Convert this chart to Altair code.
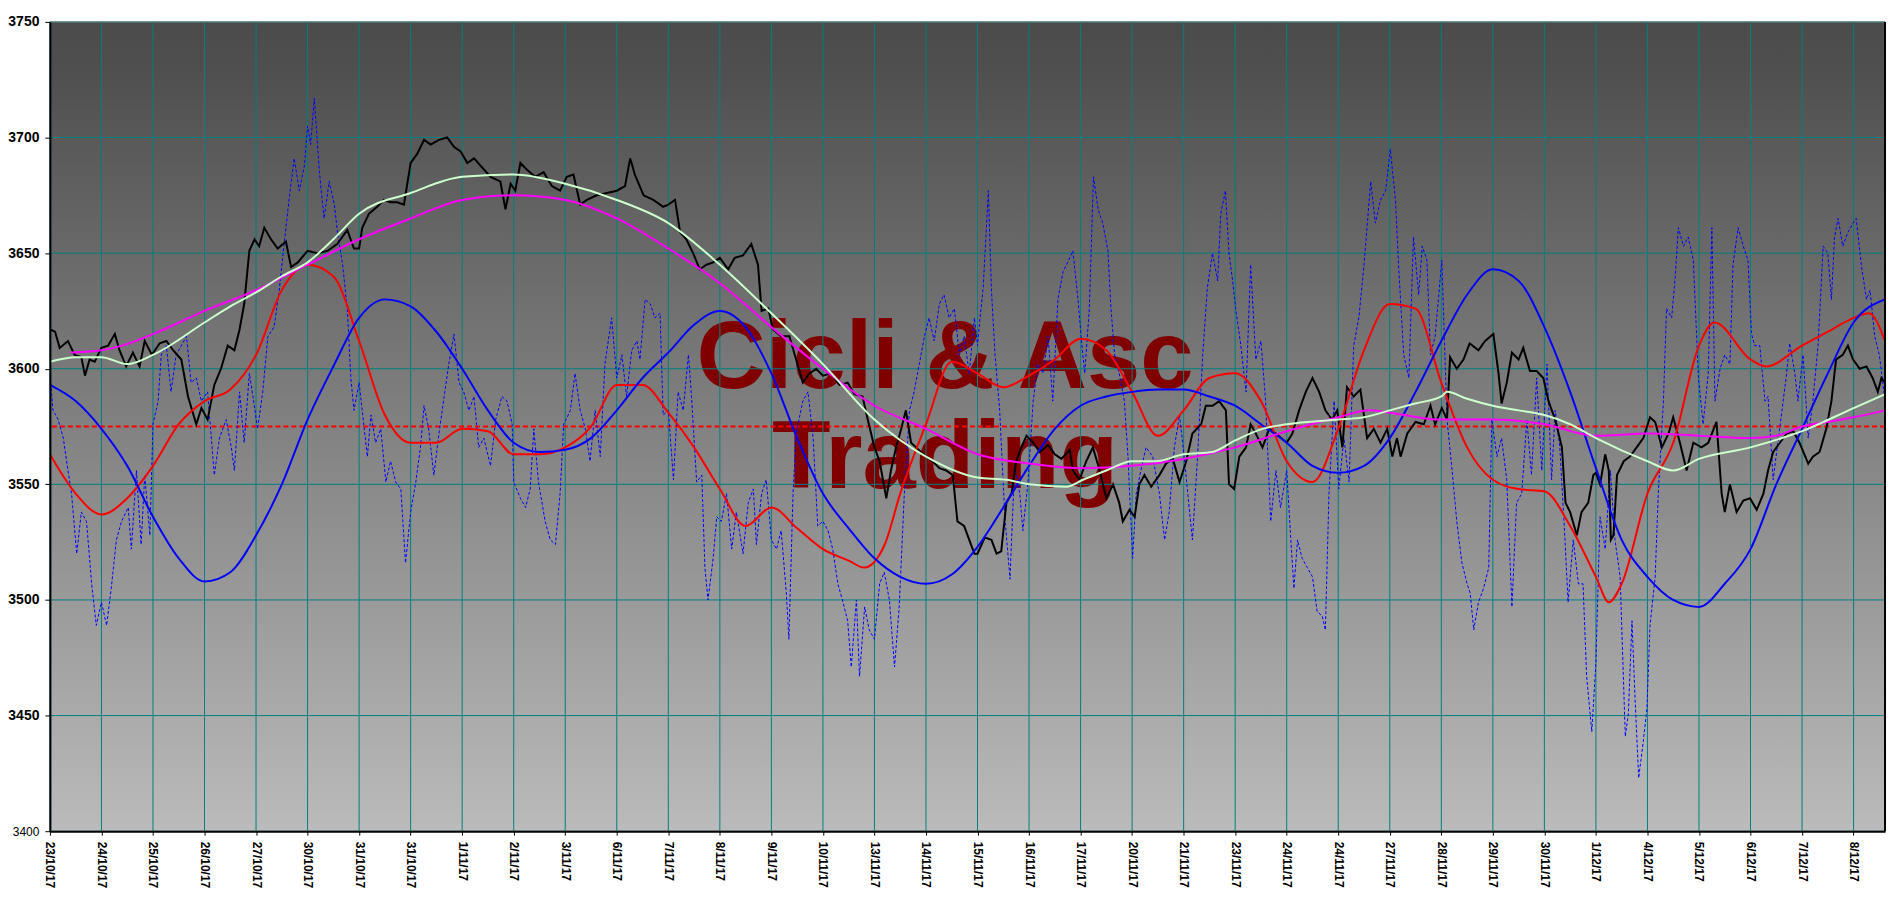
import altair as alt
import pandas as pd

# ---------------- data ----------------
x_labels = ["23/10/17", "24/10/17", "25/10/17", "26/10/17", "27/10/17", "30/10/17",
            "31/10/17", "31/10/17", "1/11/17", "2/11/17", "3/11/17", "6/11/17",
            "7/11/17", "8/11/17", "9/11/17", "10/11/17", "13/11/17", "14/11/17",
            "15/11/17", "16/11/17", "17/11/17", "20/11/17", "21/11/17", "23/11/17",
            "24/11/17", "24/11/17", "27/11/17", "28/11/17", "29/11/17", "30/11/17",
            "1/12/17", "4/12/17", "5/12/17", "6/12/17", "7/12/17", "8/12/17"]
y_ticks = [3400, 3450, 3500, 3550, 3600, 3650, 3700, 3750]
ref_level = [3575]

# price (black), position measured in label-slot units
price_t = [0.00, 0.10, 0.19, 0.35, 0.48, 0.61, 0.68, 0.77, 0.87, 1.00, 1.13, 1.26, 1.35, 1.48, 1.61, 1.74, 1.84, 1.98,
           2.13, 2.26, 2.39, 2.55, 2.68, 2.84, 2.94, 3.06, 3.19, 3.32, 3.45, 3.58, 3.68, 3.77, 3.87, 3.97, 4.06, 4.16,
           4.29, 4.42, 4.58, 4.68, 4.81, 5.00, 5.19, 5.39, 5.58, 5.77, 5.90,
           6.00, 6.06, 6.19, 6.35, 6.48, 6.61, 6.74, 6.87, 7.00, 7.13, 7.26, 7.39, 7.55, 7.71, 7.84, 7.97, 8.10, 8.23,
           8.39, 8.55, 8.74, 8.84, 8.94, 9.03, 9.13, 9.26, 9.42, 9.58, 9.74, 9.90, 10.03, 10.16, 10.29, 10.42, 10.61,
           10.81, 11.00, 11.16, 11.26, 11.35, 11.52, 11.71, 11.90,
           12.00, 12.13, 12.23, 12.35, 12.48, 12.61, 12.74, 12.87, 13.00, 13.16, 13.29, 13.45, 13.61, 13.74, 13.81,
           13.94, 14.03, 14.19, 14.35, 14.48, 14.61, 14.74, 14.87, 15.00, 15.16, 15.32, 15.48, 15.61, 15.77, 15.87,
           16.00, 16.10, 16.23, 16.32, 16.42, 16.52, 16.61, 16.71, 16.81, 16.90, 17.00, 17.13, 17.26, 17.39, 17.52,
           17.61, 17.74, 17.84, 17.94,
           18.00, 18.14, 18.27, 18.37, 18.46, 18.56, 18.66, 18.75, 18.85, 18.95, 19.08, 19.21, 19.37, 19.50, 19.63,
           19.79, 19.85, 19.98, 20.11, 20.24, 20.37, 20.50, 20.63, 20.75, 20.82, 20.95, 21.05, 21.14, 21.24, 21.37,
           21.53, 21.66, 21.79, 21.92, 22.05, 22.17, 22.34, 22.43, 22.56, 22.69, 22.82, 22.88, 22.98, 23.08, 23.21,
           23.30, 23.40, 23.53, 23.66, 23.79,
           24.00, 24.11, 24.24, 24.37, 24.50, 24.63, 24.75, 24.88, 24.98, 25.08, 25.17, 25.30, 25.43, 25.56, 25.69,
           25.82, 25.95, 26.05, 26.14, 26.21, 26.34, 26.50, 26.66, 26.79, 26.88, 27.01, 27.11, 27.17, 27.30, 27.43,
           27.55, 27.72, 27.85, 28.01, 28.11, 28.17, 28.27, 28.37, 28.50, 28.59, 28.72, 28.85, 28.98, 29.08, 29.21,
           29.34, 29.41, 29.50, 29.63, 29.72, 29.85, 29.95, 30.00,
           30.08, 30.18, 30.25, 30.29, 30.34, 30.41, 30.54, 30.66, 30.79, 30.92, 31.05, 31.15, 31.28, 31.41, 31.50,
           31.63, 31.76, 31.89, 32.05, 32.18, 32.34, 32.44, 32.50, 32.60, 32.73, 32.86, 32.99, 33.12, 33.25, 33.34,
           33.44, 33.57, 33.70, 33.83, 33.95, 34.12, 34.21, 34.34, 34.47, 34.57, 34.66, 34.79, 34.89, 34.99, 35.12,
           35.25, 35.37, 35.47, 35.54, 35.61]
price_v = [3617, 3616, 3609, 3612, 3606, 3605, 3597, 3604, 3603, 3609, 3610, 3615, 3608, 3601, 3607, 3601, 3612, 3606,
           3611, 3612, 3608, 3604, 3588, 3576, 3583, 3578, 3593, 3600, 3610, 3608, 3617, 3628, 3651, 3656, 3653, 3661,
           3656, 3652, 3655, 3644, 3646, 3651, 3650, 3651, 3654, 3660, 3652,
           3652, 3661, 3667, 3670, 3673, 3672, 3672, 3671, 3689, 3693, 3699, 3697, 3699, 3700, 3696, 3694, 3689, 3691,
           3687, 3683, 3681, 3669, 3680, 3677, 3689, 3686, 3683, 3685, 3679, 3677, 3683, 3684, 3671, 3673, 3675,
           3676, 3677, 3679, 3691, 3684, 3675, 3673, 3670,
           3671, 3673, 3659, 3656, 3650, 3643, 3645, 3646, 3648, 3643, 3648, 3649, 3654, 3645, 3625,
           3626, 3617, 3614, 3614, 3604, 3594, 3598, 3600, 3597, 3598, 3593, 3594, 3589, 3588, 3578,
           3566, 3560, 3544, 3556, 3566, 3574, 3582, 3568, 3566, 3564, 3562, 3560, 3557, 3556, 3554,
           3534, 3532, 3526, 3520,
           3520, 3527, 3526, 3520, 3521, 3542, 3546, 3560, 3566, 3571, 3568, 3564, 3567, 3563, 3561,
           3565, 3556, 3552, 3560, 3566, 3556, 3544, 3550, 3542, 3534, 3539, 3536, 3550, 3554, 3549,
           3554, 3559, 3561, 3551, 3560, 3572, 3576, 3584, 3584, 3586, 3582, 3550, 3548, 3562, 3566,
           3576, 3572, 3566, 3574, 3572,
           3568, 3572, 3582, 3590, 3596, 3590, 3582, 3578, 3582, 3566, 3592, 3588, 3591, 3570, 3574,
           3568, 3574, 3562, 3570, 3562, 3572, 3577, 3576, 3584, 3576, 3583, 3578, 3605, 3600, 3604,
           3611, 3608, 3612, 3615, 3598, 3585, 3594, 3607, 3604, 3609, 3599, 3599, 3596, 3586, 3578,
           3566, 3542, 3538, 3528, 3538, 3542, 3554, 3555,
           3550, 3563, 3556, 3526, 3528, 3554, 3560, 3562, 3566, 3570, 3579, 3577, 3566, 3572, 3579,
           3568, 3556, 3568, 3566, 3568, 3577, 3546, 3538, 3550, 3538, 3543, 3544, 3539, 3546, 3556,
           3564, 3568, 3572, 3573, 3568, 3559, 3562, 3564, 3574, 3586, 3604, 3606, 3610, 3604, 3600,
           3601, 3596, 3590, 3596, 3594]

# fast oscillator (blue dotted)
osc_t = [0.00, 0.06, 0.16, 0.26, 0.35, 0.42, 0.52, 0.61, 0.71, 0.81, 0.90, 1.00, 1.10, 1.19, 1.29, 1.39, 1.52, 1.58,
         1.68, 1.77, 1.84, 1.94, 2.00, 2.10, 2.16, 2.26, 2.35, 2.45, 2.55, 2.65, 2.74, 2.84, 2.94, 3.06, 3.19, 3.29,
         3.42, 3.52, 3.58, 3.68, 3.77, 3.87, 3.94, 4.03, 4.13, 4.23, 4.35, 4.45, 4.55, 4.65, 4.74, 4.84, 4.94, 5.00,
         5.06, 5.13, 5.23, 5.32, 5.42, 5.52, 5.58, 5.68, 5.77, 5.84, 5.90,
         6.00, 6.06, 6.16, 6.23, 6.32, 6.42, 6.52, 6.61, 6.71, 6.81, 6.90, 7.00, 7.10, 7.19, 7.26, 7.35, 7.45, 7.55,
         7.65, 7.74, 7.84, 7.94, 8.03, 8.13, 8.23, 8.32, 8.42, 8.55, 8.65, 8.77, 8.87, 8.97, 9.00, 9.13, 9.23, 9.32,
         9.39, 9.48, 9.61, 9.71, 9.81, 9.90, 9.97, 10.10, 10.19, 10.29, 10.39, 10.48, 10.58, 10.68, 10.77, 10.90,
         11.00, 11.10, 11.19, 11.29, 11.39, 11.45, 11.55, 11.65, 11.74, 11.84, 11.90,
         12.00, 12.10, 12.19, 12.29, 12.39, 12.45, 12.55, 12.65, 12.71, 12.77, 12.87, 12.94, 13.03, 13.13, 13.23,
         13.32, 13.45, 13.55, 13.65, 13.71, 13.81, 13.90, 14.00, 14.10, 14.19, 14.29, 14.34, 14.42, 14.48, 14.61,
         14.71, 14.81, 14.90, 15.00, 15.10, 15.19, 15.29, 15.39, 15.48, 15.55, 15.65, 15.71, 15.81, 15.90, 16.00,
         16.10, 16.19, 16.29, 16.39, 16.48, 16.58, 16.68, 16.77, 16.87, 16.97, 17.06, 17.16, 17.26, 17.35, 17.45,
         17.55, 17.65, 17.74, 17.84, 17.94,
         18.00, 18.05, 18.11, 18.21, 18.27, 18.34, 18.43, 18.53, 18.63, 18.72, 18.82, 18.88, 18.98, 19.08, 19.17,
         19.27, 19.37, 19.46, 19.56, 19.66, 19.75, 19.85, 19.95, 20.01, 20.08, 20.17, 20.25, 20.34, 20.43, 20.53,
         20.59, 20.66, 20.75, 20.85, 20.92, 21.01, 21.08, 21.17, 21.27, 21.40, 21.53, 21.63, 21.72, 21.82, 21.92,
         22.01, 22.08, 22.17, 22.27, 22.37, 22.46, 22.56, 22.66, 22.72, 22.81, 22.88, 22.95, 23.01, 23.11, 23.21,
         23.30, 23.40, 23.50, 23.59, 23.69, 23.79, 23.88,
         24.00, 24.08, 24.14, 24.21, 24.30, 24.40, 24.50, 24.59, 24.69, 24.75, 24.82, 24.92, 25.01, 25.11, 25.21,
         25.30, 25.40, 25.50, 25.63, 25.72, 25.82, 25.92, 26.01, 26.11, 26.17, 26.27, 26.37, 26.46, 26.56, 26.63,
         26.72, 26.79, 26.88, 27.01, 27.11, 27.21, 27.30, 27.40, 27.50, 27.56, 27.63, 27.72, 27.82, 27.92, 27.98,
         28.08, 28.17, 28.27, 28.37, 28.46, 28.56, 28.66, 28.75, 28.85, 28.95, 29.05, 29.14, 29.21, 29.30, 29.40,
         29.46, 29.56, 29.66, 29.75, 29.82, 29.92, 30.00,
         30.08, 30.18, 30.28, 30.37, 30.47, 30.57, 30.63, 30.70, 30.76, 30.83, 30.92, 30.99, 31.05, 31.15, 31.21,
         31.31, 31.37, 31.47, 31.54, 31.60, 31.70, 31.79, 31.89, 31.99, 32.08, 32.18, 32.25, 32.31, 32.41, 32.50,
         32.60, 32.66, 32.76, 32.86, 32.95, 33.02, 33.08, 33.18, 33.28, 33.34, 33.44, 33.54, 33.60, 33.70, 33.76,
         33.86, 33.92, 34.02, 34.12, 34.21, 34.31, 34.41, 34.50, 34.57, 34.63, 34.70, 34.79, 34.89, 34.99, 35.05,
         35.15, 35.25, 35.32, 35.41, 35.50, 35.61]
osc_v = [3598, 3582, 3578, 3570, 3556, 3546, 3520, 3538, 3534, 3507, 3489, 3499, 3489, 3505, 3526, 3534, 3540, 3522,
         3556, 3524, 3554, 3528, 3576, 3586, 3606, 3610, 3590, 3606, 3610, 3614, 3594, 3596, 3586, 3590, 3554, 3570,
         3578, 3566, 3556, 3590, 3568, 3598, 3588, 3574, 3590, 3614, 3618, 3634, 3655, 3675, 3691, 3677, 3688, 3705,
         3697, 3717, 3685, 3665, 3681, 3671, 3659, 3645, 3626, 3596, 3582,
         3594, 3582, 3562, 3580, 3568, 3574, 3551, 3560, 3551, 3548, 3516, 3538, 3551, 3566, 3584, 3574, 3554, 3572,
         3588, 3602, 3615, 3594, 3590, 3582, 3588, 3566, 3570, 3558, 3578, 3588, 3586, 3576, 3551, 3544, 3540, 3548,
         3574, 3551, 3534, 3526, 3524, 3546, 3576, 3582, 3598, 3582, 3574, 3560, 3582, 3562, 3602, 3622,
         3596, 3606, 3588, 3608, 3612, 3604, 3630, 3628, 3622, 3624, 3580,
         3582, 3552, 3590, 3582, 3606, 3588, 3551, 3554, 3514, 3500, 3518, 3536, 3534, 3546, 3522,
         3538, 3520, 3542, 3548, 3524, 3546, 3552, 3526, 3522, 3530, 3503, 3483, 3546, 3572, 3586,
         3590, 3570, 3532, 3534, 3530, 3522, 3507, 3499, 3491, 3471, 3500, 3467, 3497, 3487, 3483,
         3507, 3512, 3500, 3471, 3497, 3546, 3582, 3590, 3602, 3614, 3622, 3612, 3628, 3632, 3622,
         3626, 3606, 3614, 3598, 3622,
         3610, 3622, 3635, 3677, 3634, 3606, 3582, 3536, 3509, 3558, 3546, 3530, 3551, 3586, 3602,
         3598, 3614, 3586, 3630, 3642, 3646, 3651, 3630, 3614, 3598, 3626, 3683, 3669, 3663, 3651,
         3626, 3606, 3598, 3586, 3562, 3518, 3546, 3556, 3566, 3562, 3546, 3526, 3538, 3566, 3580,
         3562, 3546, 3526, 3562, 3606, 3635, 3650, 3638, 3667, 3677, 3650, 3638, 3626, 3610, 3590,
         3645, 3604, 3612, 3586, 3534, 3556, 3540,
         3556, 3526, 3505, 3526, 3518, 3514, 3510, 3495, 3493, 3487, 3546, 3586, 3548, 3570, 3551,
         3610, 3622, 3645, 3681, 3663, 3673, 3677, 3695, 3673, 3645, 3606, 3596, 3657, 3632, 3653,
         3647, 3606, 3614, 3647, 3578, 3556, 3534, 3516, 3507, 3503, 3487, 3499, 3505, 3514, 3578,
         3562, 3570, 3552, 3497, 3542, 3546, 3578, 3554, 3596, 3556, 3602, 3552, 3582, 3566, 3526,
         3499, 3526, 3507, 3507, 3467, 3443, 3473,
         3536, 3522, 3556, 3526, 3510, 3441, 3451, 3491, 3457, 3423, 3439, 3453, 3489, 3510, 3546,
         3586, 3626, 3622, 3640, 3661, 3653, 3657, 3647, 3596, 3576, 3598, 3661, 3586, 3600, 3606,
         3602, 3645, 3661, 3653, 3647, 3615, 3610, 3610, 3586, 3588, 3552, 3570, 3580, 3598, 3611,
         3598, 3586, 3606, 3570, 3586, 3610, 3653, 3650, 3630, 3657, 3665, 3653, 3659, 3663, 3665,
         3645, 3630, 3634, 3614, 3606, 3586]

# slow average (pale green)
avg_slow_t = [0, 0.5, 1, 1.5, 2, 3, 3.5, 4, 4.5, 5, 5.5, 6, 7, 8, 9, 10, 11, 12, 13, 14, 15, 16, 17, 18, 18.56,
              19.01, 19.72, 20.05, 20.5, 21, 21.46, 22, 22.56, 23, 23.53, 24, 25, 25.5, 26, 26.5, 27, 27.11, 27.5,
              28, 28.5, 29, 29.5, 30, 31, 31.5, 32, 33, 34, 35, 35.61]
avg_slow_v = [3603, 3605, 3605, 3602, 3606, 3620, 3627, 3633, 3640, 3646, 3656, 3667, 3676, 3683, 3684, 3680, 3673,
              3663, 3645, 3624, 3602, 3578, 3562, 3553, 3552, 3550, 3549, 3552, 3556, 3560, 3560, 3563, 3564, 3569,
              3574, 3576, 3578, 3579, 3582, 3585, 3588, 3590, 3587, 3584, 3582, 3580, 3576, 3570, 3560, 3556, 3561,
              3566, 3573, 3583, 3589]

# medium average (magenta)
avg_mid_t = [0.4, 1, 1.4, 2, 3, 4, 5, 6, 7, 8, 9, 10, 11, 12, 13, 14, 15, 16, 17, 18, 19, 20, 21, 22, 23, 24, 25,
             25.6, 26, 27, 28, 29, 30, 31, 32, 33, 33.5, 34, 34.5, 35, 35.61]
avg_mid_v = [3607, 3608, 3610, 3615, 3625, 3634, 3645, 3656, 3665, 3673, 3675, 3673, 3665, 3652, 3637, 3618, 3600,
             3584, 3574, 3563, 3559, 3557, 3558, 3561, 3566, 3573, 3579, 3582, 3581, 3578, 3578, 3576, 3571, 3572,
             3571, 3570, 3571, 3575, 3577, 3579, 3582]

# short cycle (red)
cyc_short_t = [0, 0.5, 1, 1.5, 2, 2.5, 3, 3.5, 4, 4.5, 5, 5.5, 6, 6.5, 7, 7.5, 8, 8.5, 9, 9.5, 10, 10.5, 11, 11.5,
               12, 12.5, 13, 13.5, 14, 14.5, 15, 15.5, 15.8, 16.2, 16.5, 17, 17.5, 18, 18.5, 19, 19.5, 20, 20.5,
               21, 21.5, 22, 22.5, 23, 23.5, 24, 24.5, 25, 25.5, 26, 26.5, 27, 27.5, 28, 28.5, 29, 29.5, 30, 30.25,
               30.5, 31, 31.5, 32, 32.3, 33, 33.3, 34, 34.5, 35, 35.3, 35.61]
cyc_short_v = [3563, 3546, 3537, 3544, 3558, 3576, 3586, 3591, 3606, 3634, 3645, 3640, 3612, 3580, 3568, 3568, 3574,
               3573, 3563, 3563, 3566, 3575, 3593, 3593, 3581, 3566, 3548, 3532, 3540, 3531, 3522, 3517, 3514, 3524,
               3546, 3576, 3603, 3598, 3592, 3597, 3604, 3613, 3608, 3590, 3571, 3582, 3596, 3598, 3586, 3560, 3551,
               3574, 3608, 3628, 3626, 3594, 3566, 3552, 3548, 3547, 3532, 3510, 3499, 3507, 3546, 3568, 3610, 3620,
               3604, 3601, 3610, 3616, 3622, 3624, 3612]

# long cycle (blue)
cyc_long_t = [0, 0.5, 1, 1.5, 2, 2.5, 3, 3.5, 4, 4.5, 5, 5.5, 6, 6.5, 7, 7.5, 8, 8.5, 9, 9.5, 10, 10.5, 11, 11.5,
              12, 12.5, 13, 13.5, 14, 14.5, 15, 15.5, 16, 16.5, 17, 17.5, 18, 18.5, 19, 19.5, 20, 20.5, 21, 21.5,
              22, 22.5, 23, 23.5, 24, 24.5, 25, 25.5, 26, 26.5, 27, 27.5, 28, 28.5, 29, 29.5, 30, 30.5, 31, 31.5,
              32, 32.5, 33, 33.5, 34, 34.5, 35, 35.61]
cyc_long_v = [3593, 3586, 3574, 3558, 3536, 3518, 3508, 3512, 3528, 3550, 3578, 3601, 3622, 3630, 3627, 3616, 3600,
              3582, 3568, 3564, 3565, 3570, 3582, 3596, 3607, 3619, 3625, 3618, 3598, 3570, 3546, 3531, 3518, 3510,
              3507, 3511, 3523, 3540, 3558, 3574, 3584, 3588, 3590, 3591, 3591, 3588, 3584, 3576, 3568, 3558, 3555,
              3558, 3570, 3590, 3612, 3632, 3643, 3638, 3618, 3590, 3557, 3526, 3510, 3500, 3497, 3507, 3522, 3550,
              3574, 3598, 3620, 3630]

watermark = ["Cicli & Asc", "Trading"]

# ---------------- chart ----------------
W, H = 1839, 811
X_MAX = 35.61
FONT = "Liberation Sans"

label_expr = "[" + ",".join("'" + s + "'" for s in x_labels) + "][datum.value]"
xscale = alt.Scale(domain=[0, X_MAX], nice=False, zero=False)
yscale = alt.Scale(domain=[3400, 3750], nice=False, zero=False)

x_axis = alt.Axis(values=list(range(len(x_labels))), labelExpr=label_expr, labelAngle=90, grid=False,
                  domainColor="black", domainWidth=2, tickColor="black", tickSize=4, labelPadding=6,
                  labelFont=FONT, labelFontSize=12, labelFontWeight="bold", labelColor="black",
                  labelOverlap=False, title="", zindex=1)
y_axis = alt.Axis(values=y_ticks, format="d", grid=False, domainColor="black", domainWidth=2,
                  tickColor="black", tickSize=5, labelPadding=6, labelFont=FONT,
                  labelFontSize={"condition": {"test": "datum.value == 3400", "value": 12}, "value": 14},
                  labelFontWeight={"condition": {"test": "datum.value == 3400", "value": "normal"},
                                   "value": "bold"},
                  labelColor="black", title="", zindex=1)

X = alt.X("t:Q", scale=xscale, axis=x_axis)
Y = alt.Y("v:Q", scale=yscale, axis=y_axis)


def series(ts, vs):
    return pd.DataFrame({"t": ts, "v": vs})


one = pd.DataFrame({"k": [0]})

gradient = {"gradient": "linear", "x1": 0, "y1": 0, "x2": 0, "y2": 1,
            "stops": [{"offset": 0, "color": "#4b4b4b"},
                      {"offset": 0.06, "color": "#4f4f4f"},
                      {"offset": 1, "color": "#bbbbbb"}]}

bg = alt.Chart(one).mark_rect(fill=gradient, strokeWidth=0).encode(
    x=alt.value(0), x2=alt.value("width"), y=alt.value(0), y2=alt.value("height"))

wm_df = pd.DataFrame({"txt": watermark, "row": [0, 1]})
wm1 = alt.Chart(wm_df.iloc[[0]]).mark_text(font=FONT, fontSize=96, fontWeight="bold", color="#800000",
                                           align="center", baseline="alphabetic").encode(
    x=alt.value(897), y=alt.value(367), text="txt:N")
wm2 = alt.Chart(wm_df.iloc[[1]]).mark_text(font=FONT, fontSize=96, fontWeight="bold", color="#800000",
                                           align="center", baseline="alphabetic").encode(
    x=alt.value(897), y=alt.value(467), text="txt:N")

vgrid = alt.Chart(pd.DataFrame({"t": list(range(len(x_labels)))})).mark_rule(
    color="#008080", strokeWidth=1).encode(x=X)
hgrid = alt.Chart(pd.DataFrame({"v": y_ticks})).mark_rule(
    color="#008080", strokeWidth=1).encode(y=Y)

ref = alt.Chart(pd.DataFrame({"v": ref_level})).mark_rule(
    color="#ff0000", strokeWidth=2, strokeDash=[5, 3]).encode(y=Y)

osc = alt.Chart(series(osc_t, osc_v)).mark_line(
    color="#0000ff", strokeWidth=1, strokeDash=[3, 2], clip=True).encode(x=X, y=Y)
price = alt.Chart(series(price_t, price_v)).mark_line(
    color="#000000", strokeWidth=2, clip=True).encode(x=X, y=Y)
red = alt.Chart(series(cyc_short_t, cyc_short_v)).mark_line(
    color="#ff0000", strokeWidth=2, interpolate="monotone", clip=True).encode(x=X, y=Y)
blue = alt.Chart(series(cyc_long_t, cyc_long_v)).mark_line(
    color="#0000ff", strokeWidth=2, interpolate="monotone", clip=True).encode(x=X, y=Y)
mag = alt.Chart(series(avg_mid_t, avg_mid_v)).mark_line(
    color="#ff00ff", strokeWidth=2, interpolate="monotone", clip=True).encode(x=X, y=Y)
pale = alt.Chart(series(avg_slow_t, avg_slow_v)).mark_line(
    color="#ccffcc", strokeWidth=2, interpolate="monotone", clip=True).encode(x=X, y=Y)

top_border = alt.Chart(one).mark_rule(color="#808080", strokeWidth=1).encode(
    x=alt.value(0), x2=alt.value("width"), y=alt.value(0))
right_border = alt.Chart(one).mark_rule(color="#000000", strokeWidth=2).encode(
    x=alt.value("width"), y=alt.value(0), y2=alt.value("height"))

chart = alt.layer(bg, wm1, wm2, vgrid, hgrid, ref, osc, price, red, blue, mag, pale,
                  top_border, right_border).properties(
    width=W, height=H,
    autosize=alt.AutoSizeParams(type="none"),
    padding={"left": 42, "top": 13, "right": 8, "bottom": 58},
    background="white",
).configure_view(stroke=None)

chart.save("out.html", embed_options={"renderer": "svg", "actions": False})
